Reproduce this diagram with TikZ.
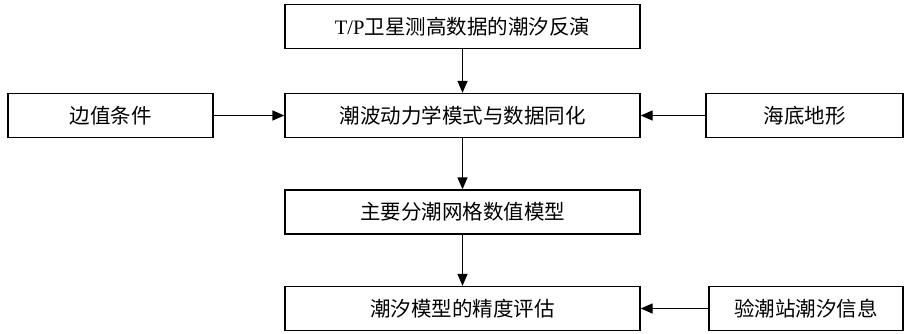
\documentclass[tikz,border=0pt]{standalone}
\usepackage{fontspec}
\newfontfamily\cjk{Noto Sans CJK SC}
\newfontfamily\latinserif{Liberation Serif}
\usetikzlibrary{arrows.meta}
\begin{document}
\begin{tikzpicture}[x=1pt,y=-1pt,
  box/.style={draw,line width=1.3pt,minimum height=44pt,inner sep=0pt,font=\cjk\fontsize{20.5}{24}\selectfont},
  mainbox/.style={box,minimum width=355pt},
  conn/.style={line width=1.3pt,-{Triangle[length=12pt,width=10pt]}}]
\useasboundingbox (0,0) rectangle (905,333);
\node[mainbox] (top) at (462.5,26.5) {{\latinserif T/P}卫星测高数据的潮汐反演};
\node[mainbox] (mid) at (462.5,115.5) {潮波动力学模式与数据同化};
\node[mainbox] (grid) at (462.5,212) {主要分潮网格数值模型};
\node[mainbox] (eval) at (462.5,308.5) {潮汐模型的精度评估};
\node[box,minimum width=205pt] (bc) at (110.5,115.5) {边值条件};
\node[box,minimum width=197pt] (topo) at (804.5,115.5) {海底地形};
\node[box,minimum width=194pt] (tide) at (806,308.5) {验潮站潮汐信息};
\draw[conn] (top) -- (mid);
\draw[conn] (mid) -- (grid);
\draw[conn] (grid) -- (eval);
\draw[conn] (bc) -- (mid);
\draw[conn] (topo) -- (mid);
\draw[conn] (tide) -- (eval);
\end{tikzpicture}
\end{document}
